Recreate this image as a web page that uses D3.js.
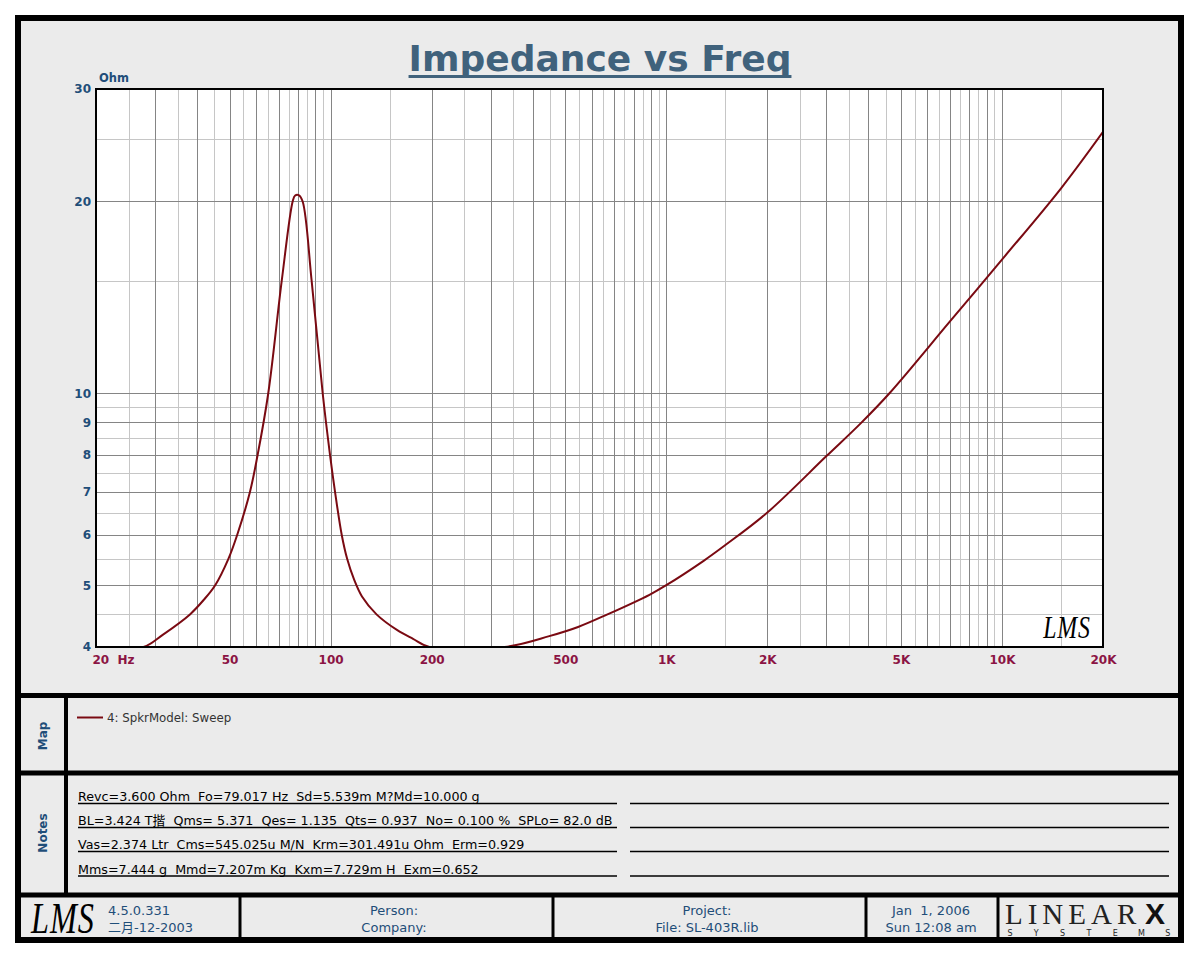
<!DOCTYPE html>
<html>
<head>
<meta charset="utf-8">
<script src="https://cdn.jsdelivr.net/npm/d3@7"></script>
<style>
  html, body { margin: 0; padding: 0; background: #ffffff; }
  svg { display: block; }
  text { white-space: pre; }
</style>
</head>
<body>
<div id="chart"></div>
<script>
// ---------------- DATA ----------------
const freqHz = [20, 27.7, 31.6, 38.1, 42, 45.3, 49.6, 52.7, 57.5, 60.6, 65.2, 71.5, 77.1, 78.4, 80.3, 82.5,
  87.8, 94.7, 99.6, 103.1, 107.9, 112, 117.5, 124, 137, 158, 176, 197, 330,
  448, 546, 668, 891, 1000, 1292, 1500, 2000, 3000, 3794, 4623, 7000, 10000, 15000, 20000];
const impedanceOhm = [4, 4, 4.18, 4.5, 4.75, 5, 5.5, 6, 7, 8, 10, 15, 20, 20.42, 20.45, 20,
  15, 10, 8, 7, 6, 5.5, 5.1, 4.8, 4.5, 4.25, 4.12, 4, 4,
  4.16, 4.3, 4.5, 4.83, 5, 5.46, 5.78, 6.5, 7.97, 8.97, 10, 12.96, 16.2, 20.96, 25.7];

const xTickValues = [20, 50, 100, 200, 500, 1000, 2000, 5000, 10000, 20000];
const xTickLabels = ["20  Hz", "50", "100", "200", "500", "1K", "2K", "5K", "10K", "20K"];
const yTickValues = [30, 20, 10, 9, 8, 7, 6, 5, 4];
const yTickLabels = ["30", "20", "10", "9", "8", "7", "6", "5", "4"];

const titleText = "Impedance vs Freq";
const yUnitText = "Ohm";
const legendLabel = "4: SpkrModel: Sweep";
const notesLines = [
  "Revc=3.600 Ohm  Fo=79.017 Hz  Sd=5.539m M?Md=10.000 g",
  "BL=3.424 T揩  Qms= 5.371  Qes= 1.135  Qts= 0.937  No= 0.100 %  SPLo= 82.0 dB",
  "Vas=2.374 Ltr  Cms=545.025u M/N  Krm=301.491u Ohm  Erm=0.929",
  "Mms=7.444 g  Mmd=7.207m Kg  Kxm=7.729m H  Exm=0.652"
];
const footerVersion = ["4.5.0.331", "二月-12-2003"];
const footerPerson = ["Person:", "Company:"];
const footerProject = ["Project:", "File: SL-403R.lib"];
const footerDate = ["Jan  1, 2006", "Sun 12:08 am"];

// ---------------- LAYOUT ----------------
const W = 1200, H = 960;
const plot = { x0: 96, x1: 1103, y0: 89, y1: 647 };
const FONT = "'DejaVu Sans', 'Noto Sans CJK SC', sans-serif";
const BLUE = "#1f4e79";
const MAROON = "#8b1444";
const CURVE = "#7a0a12";

const svg = d3.select("#chart").append("svg").attr("width", W).attr("height", H);
svg.append("rect").attr("width", W).attr("height", H).attr("fill", "#ffffff");

// outer frame
svg.append("rect").attr("x", 18).attr("y", 18).attr("width", 1163).attr("height", 922)
  .attr("fill", "#ebebeb").attr("stroke", "#000").attr("stroke-width", 6);

// section dividers
[695.5, 773, 895].forEach(y => {
  svg.append("line").attr("x1", 18).attr("x2", 1181).attr("y1", y).attr("y2", y)
    .attr("stroke", "#000").attr("stroke-width", 5);
});
svg.append("line").attr("x1", 66).attr("x2", 66).attr("y1", 695).attr("y2", 895)
  .attr("stroke", "#000").attr("stroke-width", 4);
[240, 553, 866, 998].forEach(x => {
  svg.append("line").attr("x1", x).attr("x2", x).attr("y1", 895).attr("y2", 940)
    .attr("stroke", "#000").attr("stroke-width", 3);
});

// ---------------- SCALES ----------------
const x = d3.scaleLog().domain([20, 20000]).range([plot.x0, plot.x1]);
const y = d3.scaleLog().domain([4, 30]).range([plot.y1, plot.y0]).clamp(true);

// plot background
svg.append("rect").attr("x", plot.x0).attr("y", plot.y0)
  .attr("width", plot.x1 - plot.x0).attr("height", plot.y1 - plot.y0).attr("fill", "#ffffff");

svg.append("clipPath").attr("id", "plotclip").append("rect")
  .attr("x", plot.x0).attr("y", plot.y0)
  .attr("width", plot.x1 - plot.x0).attr("height", plot.y1 - plot.y0);

// grid
const xMajor = [], xMinor = [];
[10, 100, 1000, 10000].forEach(dec => {
  for (let k = 1; k <= 9; k++) {
    const v = dec * k; if (v >= 20 && v <= 20000) xMajor.push(v);
    const h = dec * (k + 0.5); if (h > 20 && h < 20000) xMinor.push(h);
  }
});
const yMajor = [5, 6, 7, 8, 9, 10, 20];
const yMinor = [4.5, 5.5, 6.5, 7.5, 8.5, 9.5, 15, 25];
const grid = svg.append("g");
grid.selectAll(".xmin").data(xMinor).join("line")
  .attr("x1", d => Math.round(x(d)) + 0.5).attr("x2", d => Math.round(x(d)) + 0.5)
  .attr("y1", plot.y0).attr("y2", plot.y1).attr("stroke", "#c6c6c6").attr("stroke-width", 1);
grid.selectAll(".ymin").data(yMinor).join("line")
  .attr("y1", d => Math.round(y(d)) + 0.5).attr("y2", d => Math.round(y(d)) + 0.5)
  .attr("x1", plot.x0).attr("x2", plot.x1).attr("stroke", "#c6c6c6").attr("stroke-width", 1);
grid.selectAll(".xmaj").data(xMajor).join("line")
  .attr("x1", d => Math.round(x(d)) + 0.5).attr("x2", d => Math.round(x(d)) + 0.5)
  .attr("y1", plot.y0).attr("y2", plot.y1).attr("stroke", "#858585").attr("stroke-width", 1);
grid.selectAll(".ymaj").data(yMajor).join("line")
  .attr("y1", d => Math.round(y(d)) + 0.5).attr("y2", d => Math.round(y(d)) + 0.5)
  .attr("x1", plot.x0).attr("x2", plot.x1).attr("stroke", "#858585").attr("stroke-width", 1);

// curve
const pts = freqHz.map((f, i) => [f, impedanceOhm[i]]);
const line = d3.line().x(d => x(d[0])).y(d => y(d[1])).curve(d3.curveCatmullRom.alpha(0.5));
svg.append("path").datum(pts).attr("d", line).attr("fill", "none")
  .attr("clip-path", "url(#plotclip)")
  .attr("stroke", CURVE).attr("stroke-width", 2).attr("stroke-linejoin", "round");

// plot border
svg.append("rect").attr("x", plot.x0).attr("y", plot.y0)
  .attr("width", plot.x1 - plot.x0).attr("height", plot.y1 - plot.y0)
  .attr("fill", "none").attr("stroke", "#000").attr("stroke-width", 2);

// axes
const xAxis = d3.axisBottom(x).tickValues(xTickValues).tickSize(0).tickPadding(8)
  .tickFormat((d, i) => xTickLabels[i]);
const gx = svg.append("g").attr("transform", `translate(0,${plot.y1})`).call(xAxis);
gx.select(".domain").remove();
gx.selectAll("text").attr("font-family", FONT).attr("font-size", 12).attr("font-weight", "bold")
  .attr("fill", MAROON);
gx.selectAll(".tick").filter((d, i) => i === 0).select("text")
  .attr("text-anchor", "start").attr("x", -4);

const yAxis = d3.axisLeft(y).tickValues(yTickValues).tickSize(0).tickPadding(5)
  .tickFormat((d, i) => yTickLabels[i]);
const gy = svg.append("g").attr("transform", `translate(${plot.x0},0)`).call(yAxis);
gy.select(".domain").remove();
gy.selectAll("text").attr("font-family", FONT).attr("font-size", 12).attr("font-weight", "bold")
  .attr("fill", BLUE);

svg.append("text").attr("x", 99).attr("y", 82).text(yUnitText)
  .attr("font-family", FONT).attr("font-size", 11.5).attr("font-weight", "bold").attr("fill", BLUE);

// title
const title = svg.append("text").attr("x", 600).attr("y", 71).attr("text-anchor", "middle")
  .attr("font-family", FONT).attr("font-weight", "bold").attr("font-size", 40)
  .attr("fill", "#40627c").text(titleText);
{
  const w = title.node().getComputedTextLength();
  title.attr("font-size", 40 * 383 / w);
  const w2 = title.node().getComputedTextLength();
  svg.append("line").attr("x1", 600 - w2 / 2).attr("x2", 600 + w2 / 2)
    .attr("y1", 76.5).attr("y2", 76.5).attr("stroke", "#40627c").attr("stroke-width", 3);
}

// LMS logos
function lmsLogo(cx, cy, sx, sy, size) {
  svg.append("text").attr("transform", `translate(${cx},${cy}) scale(${sx},${sy})`)
    .attr("font-family", "'Liberation Serif', serif").attr("font-style", "italic")
    .attr("font-size", size).attr("fill", "#000").attr("text-anchor", "middle")
    .attr("letter-spacing", 1).text("LMS");
}
lmsLogo(1067, 638, 0.85, 1.15, 28);
lmsLogo(63, 933, 0.95, 1.3, 34);

// ---------------- MAP ----------------
svg.append("text").attr("transform", "translate(47,736) rotate(-90)").attr("text-anchor", "middle")
  .attr("font-family", FONT).attr("font-size", 12).attr("font-weight", "bold").attr("fill", BLUE).text("Map");
svg.append("line").attr("x1", 77).attr("x2", 103).attr("y1", 717.5).attr("y2", 717.5)
  .attr("stroke", CURVE).attr("stroke-width", 2);
svg.append("text").attr("x", 107).attr("y", 721.5).attr("font-family", FONT).attr("font-size", 11.8)
  .attr("fill", "#333").text(legendLabel);

// ---------------- NOTES ----------------
svg.append("text").attr("transform", "translate(47,833) rotate(-90)").attr("text-anchor", "middle")
  .attr("font-family", FONT).attr("font-size", 12).attr("font-weight", "bold").attr("fill", BLUE).text("Notes");
const noteY = [803.5, 827.5, 851.5, 876];
const noteTexts = svg.append("g").selectAll("text").data(notesLines).join("text")
  .attr("x", 78).attr("y", (d, i) => noteY[i] - 2.5)
  .attr("font-family", FONT).attr("font-size", 12).attr("fill", "#000").text(d => d);
{
  const w = noteTexts.filter((d, i) => i === 1).node().getComputedTextLength();
  noteTexts.attr("font-size", 12 * 535 / w);
}
noteY.forEach(yy => {
  svg.append("line").attr("x1", 78).attr("x2", 617).attr("y1", yy).attr("y2", yy)
    .attr("stroke", "#000").attr("stroke-width", 1.5);
  svg.append("line").attr("x1", 630).attr("x2", 1169).attr("y1", yy).attr("y2", yy)
    .attr("stroke", "#000").attr("stroke-width", 1.5);
});

// ---------------- FOOTER ----------------
function footerPair(xx, lines, anchor, weight) {
  [915, 932].forEach((yy, i) => {
    svg.append("text").attr("x", xx).attr("y", yy).attr("text-anchor", anchor)
      .attr("font-family", FONT).attr("font-size", 13).attr("font-weight", weight)
      .attr("fill", BLUE).text(lines[i]);
  });
}
footerPair(108, footerVersion, "start", "normal");
footerPair(394, footerPerson, "middle", "normal");
footerPair(707, footerProject, "middle", "normal");
footerPair(931, footerDate, "middle", "normal");

// LINEARX logo
svg.append("text").attr("x", 1005).attr("y", 924).attr("font-family", "'Liberation Serif', serif")
  .attr("font-size", 29).attr("letter-spacing", 5).attr("fill", "#222").text("LINEAR");
svg.append("text").attr("x", 1145).attr("y", 924).attr("font-family", "'Liberation Sans', sans-serif")
  .attr("font-size", 30).attr("font-weight", "bold").attr("fill", "#111").text("X");
const sysLetters = ["S", "Y", "S", "T", "E", "M", "S"];
svg.append("g").selectAll("text").data(sysLetters).join("text")
  .attr("x", (d, i) => 1010 + i * 26.3).attr("y", 936).attr("text-anchor", "middle")
  .attr("font-family", "'DejaVu Sans', sans-serif").attr("font-size", 8).attr("fill", "#222").text(d => d);
</script>
</body>
</html>
